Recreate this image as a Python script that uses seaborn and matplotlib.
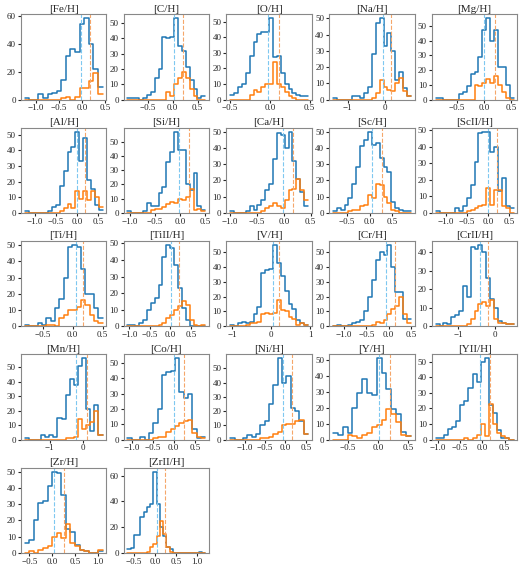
import numpy as np
import pandas as pd
import seaborn as sns
import matplotlib.pyplot as plt
from matplotlib.ticker import MultipleLocator

names = ['[Fe/H]', '[C/H]', '[O/H]', '[Na/H]', '[Mg/H]',
         '[Al/H]', '[Si/H]', '[Ca/H]', '[Sc/H]', '[ScII/H]',
         '[Ti/H]', '[TiII/H]', '[V/H]', '[Cr/H]', '[CrII/H]',
         '[Mn/H]', '[Co/H]', '[Ni/H]', '[Y/H]', '[YII/H]',
         '[Zr/H]', '[ZrII/H]']

ranges = [(-1.25, 0.45), (-0.9, 0.65), (-0.5, 0.48), (-1.4, 0.7), (-0.9, 0.55),
          (-1.25, 0.6), (-1.05, 0.5), (-1.0, 0.45), (-0.8, 0.9), (-1.25, 0.6),
          (-0.8, 0.5), (-1.05, 0.85), (-1.05, 0.95), (-1.25, 0.5), (-1.6, 0.5),
          (-1.75, 0.6), (-1.1, 0.75), (-1.35, 0.55), (-0.75, 0.55), (-1.05, 0.7),
          (-0.6, 1.1), (-0.65, 1.2)]

x_steps = [0.5, 0.5, 0.5, 1, 0.5, 0.5, 0.5, 0.5, 0.5, 0.5,
           0.5, 0.5, 1, 0.5, 1, 1, 0.5, 0.5, 0.5, 0.5, 0.5, 0.5]
y_steps = [20, 10, 10, 10, 10, 10, 10, 10, 10, 10,
           10, 10, 10, 10, 10, 10, 10, 10, 10, 10, 10, 20]

blue_counts = [
    [1, 0, 0, 4, 1, 4, 5, 6, 14, 31, 36, 34, 54, 58, 40, 22, 9],
    [1, 1, 1, 0, 1, 3, 5, 14, 20, 41, 40, 41, 53, 35, 32, 21, 13, 7, 1, 2],
    [3, 4, 8, 10, 17, 28, 37, 42, 43, 43, 52, 27, 28, 17, 10, 7, 4, 3, 2, 2],
    [1, 0, 0, 0, 0, 2, 2, 1, 4, 8, 28, 47, 50, 33, 41, 30, 12, 17, 7, 2],
    [1, 1, 0, 0, 0, 0, 4, 5, 9, 17, 19, 29, 47, 55, 40, 47, 22, 22, 10, 1],
    [1, 0, 0, 0, 0, 0, 1, 4, 5, 17, 27, 39, 42, 52, 33, 48, 21, 15, 5, 2],
    [1, 0, 0, 0, 1, 7, 5, 5, 14, 18, 36, 43, 57, 44, 44, 20, 16, 28, 5, 2],
    [1, 0, 0, 0, 1, 4, 2, 5, 8, 14, 18, 33, 49, 48, 40, 50, 32, 21, 13, 4],
    [1, 3, 2, 5, 9, 18, 28, 41, 45, 50, 42, 43, 34, 28, 25, 7, 3, 2, 1, 1],
    [1, 0, 0, 0, 0, 3, 1, 4, 9, 17, 31, 48, 49, 49, 37, 40, 13, 21, 4, 3],
    [1, 0, 0, 2, 1, 5, 3, 11, 17, 30, 49, 50, 49, 35, 20, 20, 11, 5],
    [1, 1, 0, 2, 4, 10, 14, 17, 25, 42, 49, 47, 37, 23, 11, 4, 0, 0, 0, 0],
    [1, 0, 2, 3, 2, 3, 8, 13, 36, 38, 39, 55, 43, 34, 24, 15, 12, 4, 2, 1],
    [0, 1, 0, 0, 1, 2, 3, 4, 10, 20, 31, 45, 50, 48, 55, 40, 23, 23, 5, 5],
    [1, 0, 2, 1, 5, 6, 8, 22, 16, 43, 42, 44, 40, 26, 15, 10, 3, 2, 1, 1],
    [1, 0, 0, 0, 3, 2, 3, 2, 15, 14, 31, 42, 38, 51, 56, 21, 6, 24, 3],
    [1, 0, 0, 2, 0, 4, 11, 20, 42, 44, 45, 53, 31, 27, 30, 7, 1, 2],
    [1, 0, 0, 1, 3, 2, 4, 10, 13, 25, 38, 57, 40, 45, 22, 20, 13, 4],
    [4, 3, 8, 4, 20, 29, 38, 29, 28, 51, 42, 32, 19, 16, 5, 2],
    [1, 1, 3, 7, 8, 12, 22, 25, 33, 42, 37, 50, 52, 22, 17, 6, 1, 1, 0],
    [6, 8, 20, 31, 32, 41, 50, 49, 36, 15, 13, 5, 2, 1, 0, 0, 1],
    [3, 4, 14, 14, 28, 32, 36, 38, 63, 38, 20, 13, 5, 3, 0, 0, 0, 0, 0, 0, 0, 0, 1, 0],
]

orange_counts = [
    [0, 0, 0, 0, 0, 0, 0, 0, 1, 2, 0, 2, 8, 8, 13, 19, 4],
    [0, 0, 0, 0, 0, 0, 0, 0, 0, 0, 5, 2, 10, 14, 18, 14, 7, 2, 0, 0],
    [0, 0, 0, 0, 0, 3, 6, 5, 8, 10, 10, 24, 10, 8, 5, 2, 1, 0, 0, 0],
    [0, 0, 0, 0, 0, 0, 0, 0, 0, 0, 1, 4, 12, 8, 6, 5, 10, 13, 5, 2],
    [0, 0, 0, 0, 0, 0, 0, 0, 0, 0, 10, 9, 11, 14, 11, 16, 10, 5, 1, 0],
    [0, 0, 0, 0, 0, 0, 0, 0, 0, 1, 3, 6, 3, 14, 9, 14, 8, 14, 10, 4],
    [0, 0, 0, 0, 0, 0, 2, 3, 3, 4, 6, 8, 7, 10, 9, 11, 17, 2, 3, 1],
    [0, 0, 0, 0, 0, 0, 0, 0, 1, 3, 4, 6, 4, 3, 8, 14, 15, 21, 14, 8],
    [0, 0, 0, 0, 1, 2, 2, 4, 5, 11, 9, 18, 17, 10, 6, 2, 1, 0, 0, 0],
    [0, 0, 0, 0, 0, 0, 0, 0, 1, 2, 3, 4, 5, 15, 5, 14, 14, 4, 3, 0],
    [0, 0, 0, 0, 0, 1, 1, 0, 5, 7, 10, 10, 12, 16, 13, 7, 3, 2],
    [0, 0, 0, 0, 0, 0, 0, 0, 1, 2, 5, 7, 10, 12, 15, 13, 4, 1, 0, 1],
    [0, 0, 0, 0, 1, 2, 2, 3, 8, 9, 8, 9, 18, 11, 10, 6, 5, 1, 2, 1],
    [0, 0, 0, 0, 0, 0, 0, 0, 0, 0, 1, 3, 2, 4, 8, 12, 14, 20, 8, 2],
    [0, 0, 0, 0, 0, 0, 0, 0, 1, 4, 8, 12, 13, 11, 14, 4, 2, 2, 1, 1],
    [0, 0, 0, 0, 0, 0, 0, 0, 0, 0, 1, 1, 2, 14, 7, 10, 12, 20, 3],
    [0, 0, 0, 0, 0, 0, 1, 2, 2, 5, 7, 9, 11, 12, 13, 4, 2, 1],
    [0, 0, 0, 0, 0, 0, 0, 1, 1, 2, 4, 5, 10, 11, 11, 13, 14, 4],
    [0, 0, 0, 3, 2, 1, 3, 4, 8, 9, 12, 19, 16, 11, 3, 2],
    [0, 0, 0, 0, 0, 0, 0, 1, 0, 1, 3, 10, 2, 23, 10, 4, 2, 1, 0],
    [0, 1, 0, 2, 3, 4, 10, 12, 9, 18, 6, 4, 2, 1, 0, 0, 2],
    [0, 0, 0, 0, 0, 0, 1, 5, 7, 13, 25, 15, 5, 1, 0, 0, 0, 0, 0, 0, 0, 0, 0, 0],
]

blue_med = [-0.03, 0.02, -0.03, -0.05, 0.0, 0.0, -0.03, -0.02, 0.05, 0.0,
            0.05, 0.02, 0.05, -0.05, -0.4, -0.2, 0.0, -0.05, 0.02, -0.05, 0.05, 0.05]
orange_med = [0.18, 0.2, 0.11, 0.18, 0.2, 0.18, 0.17, 0.17, 0.28, 0.21,
              0.18, 0.2, 0.2, 0.15, -0.18, 0.12, 0.25, 0.15, 0.2, 0.18, 0.25, 0.25]

sns.set_style('ticks')
plt.rcParams['font.family'] = ['Liberation Serif', 'DejaVu Serif']
plt.rcParams['axes.edgecolor'] = '#888888'
plt.rcParams['xtick.labelsize'] = 6.5
plt.rcParams['ytick.labelsize'] = 6.5
plt.rcParams['xtick.major.size'] = 2.5
plt.rcParams['ytick.major.size'] = 2.5

fig, axes = plt.subplots(5, 5, figsize=(5.2, 5.73), dpi=100)
axes = axes.flatten()

for i, name in enumerate(names):
    ax = axes[i]
    lo, hi = ranges[i]
    nb = len(blue_counts[i])
    width = (hi - lo) / nb
    centers = lo + width * (np.arange(nb) + 0.5)
    df = pd.DataFrame({'x': centers, 'b': blue_counts[i], 'o': orange_counts[i]})
    sns.histplot(data=df, x='x', weights='b', bins=nb, binrange=(lo, hi), element='step',
                 fill=False, color='C0', linewidth=1.1, ax=ax)
    sns.histplot(data=df, x='x', weights='o', bins=nb, binrange=(lo, hi), element='step',
                 fill=False, color='C1', linewidth=1.1, ax=ax)
    ax.axvline(blue_med[i], color='#7ec8f0', ls='--', lw=0.8)
    ax.axvline(orange_med[i], color='#f5a66a', ls='--', lw=0.8)
    pad = 0.05 * (hi - lo)
    ax.set_xlim(lo - pad, hi + pad)
    ax.xaxis.set_major_locator(MultipleLocator(x_steps[i]))
    ax.yaxis.set_major_locator(MultipleLocator(y_steps[i]))
    ax.set_title(name, fontsize=8, pad=2)
    ax.set_xlabel('')
    ax.set_ylabel('')
    ax.tick_params(pad=1)

for j in range(len(names), len(axes)):
    fig.delaxes(axes[j])

plt.subplots_adjust(left=0.04, right=0.995, bottom=0.035, top=0.975, wspace=0.2, hspace=0.33)
plt.savefig('out.png', dpi=100)
